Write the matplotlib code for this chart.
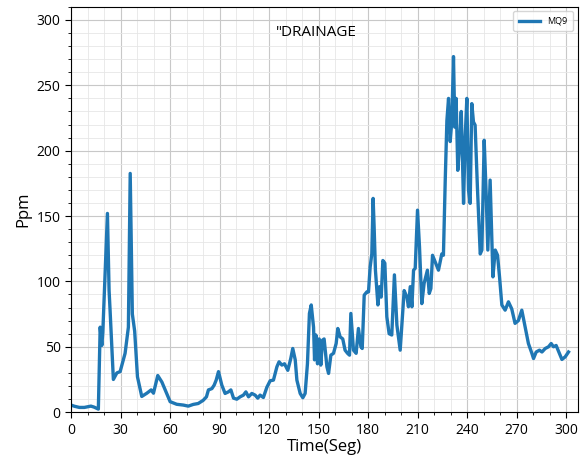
import matplotlib
matplotlib.use("Agg")
import matplotlib.pyplot as plt
from matplotlib.ticker import MultipleLocator

plt.rcParams['font.family'] = ['Open Sans', 'DejaVu Sans']

time_seg = [0, 2, 5, 8, 12, 14, 16.5, 17.6, 18.6, 19.2, 22, 23, 23.6, 25.6, 27.7, 29.7,
            32.7, 34.7, 35.8, 37.1, 38.5, 40.2, 42.8, 45.9, 48.5, 49.9, 52.5, 55, 57, 60,
            64, 68, 71, 74, 77, 80, 82, 83.2, 85.3, 86.7, 87.9, 89.3, 91.3, 93.3, 95.3,
            96.8, 98.4, 100.4, 102.4, 104.4, 105.9, 107.5, 109.5, 111.5, 113.1, 114.5,
            116.5, 118.6, 120.6, 122.6, 124.7, 126, 127.7, 129.3, 131.3, 133.1, 134.3,
            135.8, 136.8, 138.8, 140.4, 141.8, 143.2, 144.4, 145.5, 146.9, 147.5, 148.3,
            149.3, 150.3, 151.3, 152.3, 153.3, 155, 156, 157.4, 159, 160.6, 161.6, 163,
            164.6, 166, 167.5, 168.7, 169.5, 171.1, 172.7, 174.1, 175.6, 176.4, 177.6,
            179.2, 180.2, 181.2, 182.2, 183, 183.6, 184.4, 185.9, 186.9, 187.9, 188.9,
            190.1, 191.3, 192.7, 194.3, 195.9, 197.4, 199.4, 201.8, 203.5, 204.4, 205.5,
            206.5, 207.5, 208.5, 209.9, 211.1, 212.5, 213.9, 215.9, 217, 218, 219, 220.6,
            222.6, 224.6, 225.6, 226.7, 227.7, 228.7, 229.7, 230.7, 231.7, 232.5, 233.3,
            234.3, 235.3, 236.4, 237.8, 238.8, 239.8, 240.8, 241.8, 242.8, 243.8, 244.8,
            246.2, 247.9, 248.9, 250.3, 251.5, 252.5, 253.9, 255.6, 257, 258.4, 259.6,
            261, 263, 265, 267, 269, 271, 273.1, 274.7, 277.1, 279.2, 280.2, 281.8, 283.8,
            285.3, 287.3, 289.3, 290.9, 292.3, 293.9, 295.9, 297.4, 299.4, 301.4]

ppm_mq9 = [5.4, 4.5, 3.6, 3.6, 4.6, 3.8, 2.3, 65, 51, 61, 152, 93, 78, 25, 30, 31,
           45, 65, 182.6, 75, 62, 27, 12, 14.5, 17, 14.5, 28, 23, 17, 8,
           6, 5.4, 4.6, 5.9, 6.6, 9, 11.7, 17, 18, 20.7, 24.5, 31, 20.7, 14.3, 15.5,
           17, 10.7, 9.9, 11.7, 13, 15.5, 11.7, 14.3, 13, 10.7, 13,
           11.2, 19, 24, 24.5, 34.7, 38.5, 36, 37, 32, 41, 48.7,
           40, 24.5, 14.3, 11, 14.3, 37, 75.5, 82, 65, 40, 59,
           37, 56, 36, 55, 56, 34.7, 29.6, 43.6, 45, 52.5, 64, 57.6,
           56, 47.4, 45, 43.6, 75.5, 47.4, 45, 64, 50, 48.7, 89.5,
           92, 92, 111, 121, 163.5, 142, 108.6, 82, 96, 88, 116,
           114, 73, 60, 59, 105, 66.6, 47.4, 93, 88, 80.6, 96,
           80.6, 108.6, 110, 154.5, 126.5, 83, 98.5, 108.6, 90.8, 94.6, 120, 115,
           108.6, 121, 120, 177.5, 223, 240, 207, 223, 272, 218, 240,
           185, 203, 230, 159.7, 210.6, 240, 170, 159.7, 236, 222, 219.6,
           172, 121, 124, 208, 167, 124, 177.5, 103.5, 124, 120, 103.5,
           82, 78, 84.4, 79, 67.9, 70, 78, 67.9, 52.5, 45, 41, 46, 47.4,
           46, 48.7, 50, 52.5, 50, 51, 45, 40.3, 42.3, 46]

x_ticks = [0, 30, 60, 90, 120, 150, 180, 210, 240, 270, 300]
y_ticks = [0, 50, 100, 150, 200, 250, 300]
title_text = '"DRAINAGE'
series_label = 'MQ9'

fig = plt.figure(figsize=(5.83, 4.61), dpi=100)
ax = fig.add_axes([0.122, 0.106, 0.869, 0.879])

ax.plot(time_seg, ppm_mq9, color='#1f77b4', linewidth=2.4, label=series_label)

ax.set_xlim(0, 307)
ax.set_ylim(0, 310)
ax.set_xticks(x_ticks)
ax.set_yticks(y_ticks)
ax.xaxis.set_minor_locator(MultipleLocator(10))
ax.yaxis.set_minor_locator(MultipleLocator(10))
ax.grid(which='major', color='#c8c8c8', linewidth=0.8)
ax.grid(which='minor', color='#e6e6e6', linewidth=0.6)
ax.set_axisbelow(True)
ax.tick_params(which='major', labelsize=10, length=4, color='black')
ax.tick_params(which='minor', length=2.5, color='black')

ax.set_xlabel('Time(Seg)', fontsize=12, labelpad=1)
ax.set_ylabel('Ppm', fontsize=12, labelpad=4)

ax.text(0.483, 0.938, title_text, transform=ax.transAxes, ha='center', va='center',
        fontsize=11)

ax.legend(loc='upper right', fontsize=6.5, handlelength=2.4, borderaxespad=0.5,
          borderpad=0.6, frameon=True, fancybox=True)

fig.savefig('out.png', dpi=100)
